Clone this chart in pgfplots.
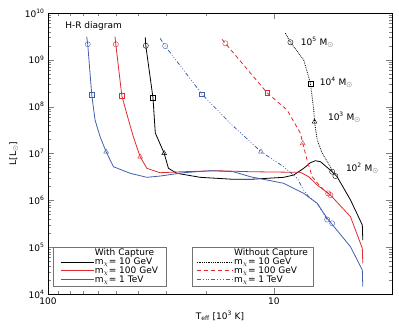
\documentclass[border=0pt]{standalone}
\usepackage{fontspec}
\setmainfont{DejaVu Sans}
\usepackage{pgfplots}
\pgfplotsset{compat=1.18}
\definecolor{cblue}{RGB}{65,95,175}
\definecolor{cred}{RGB}{222,42,48}
\newcommand\ls{\rule[-2.2pt]{0pt}{9pt}}
\begin{document}
\begin{tikzpicture}
\begin{axis}[
  scale only axis, width=344pt, height=281pt,
  xmode=log, ymode=log, x dir=reverse,
  xmin=3.0, xmax=100, ymin=1e4, ymax=1e10,
  major tick length=6pt, minor tick length=3pt,
  legend image code/.code={\draw[#1] (0pt,0pt) -- (33pt,0pt);},
  legend style={draw=black!55, fill=white, anchor=south west,
     font=\fontsize{9}{9}\selectfont, inner xsep=7pt, inner ysep=2pt,
     nodes={inner xsep=1pt, inner ysep=0.2pt},
     /tikz/every even column/.append style={column sep=5pt},
     cells={anchor=west}, at={(0.0145,0.0285)}},
  xtick={10,100}, xticklabels={10,100},
  ytick={1e4,1e5,1e6,1e7,1e8,1e9,1e10},
  yticklabels={10\textsuperscript{4},10\textsuperscript{5},10\textsuperscript{6},10\textsuperscript{7},10\textsuperscript{8},10\textsuperscript{9},10\textsuperscript{10}},
  ticklabel style={font=\fontsize{9}{9}\selectfont},
  xlabel={T\textsubscript{eff} [10\textsuperscript{3} K]},
  ylabel={L[L\textsubscript{$\odot$}]},
  label style={font=\fontsize{9}{9}\selectfont},
  axis line style={line width=0.8pt},
]
\addlegendimage{empty legend}\addlegendentry{\ls With Capture}
\addplot[black, line width=0.8pt] coordinates {(37.1,3.03e9)(36.9,2.00e9)(34.3,1.55e8)(33.5,2.74e7)(30.6,1.01e7)(29.3,4.83e6)(26.9,3.78e6)(21.2,3.10e6)(15.1,2.81e6)(12.7,2.81e6)(9.05,3.10e6)(8.17,3.47e6)(7.38,4.83e6)(6.89,6.35e6)(6.55,7.02e6)(6.22,6.68e6)(5.52,4.08e6)(5.25,3.19e6)(4.58,1.02e6)(4.06,2.97e5)(4.04,1.42e5)};
\addlegendentry{\ls m$_\chi$= 10 GeV}
\addplot[cred, line width=0.8pt] coordinates {(50.5,3.12e9)(50.1,2.15e9)(47.1,1.69e8)(44.0,5.19e7)(41.9,2.28e7)(39.1,8.54e6)(36.5,4.83e6)(31.9,3.89e6)(25.2,4.08e6)(17.9,4.29e6)(12.7,4.08e6)(7.63,3.96e6)(7.01,3.19e6)(6.43,2.12e6)(5.62,1.30e6)(4.58,4.47e5)(4.06,9.45e4)(4.04,4.52e4)};
\addlegendentry{\ls m$_\chi$= 100 GeV}
\addplot[cblue, line width=0.8pt] coordinates {(67.4,3.12e9)(66.7,2.15e9)(64.0,1.77e8)(61.9,5.19e7)(58.8,2.28e7)(55.3,1.09e7)(51.3,5.22e6)(43.3,3.78e6)(36.5,3.10e6)(31.9,3.30e6)(25.1,3.89e6)(19.1,4.29e6)(15.1,4.08e6)(12.7,3.19e6)(9.05,2.31e6)(7.38,1.41e6)(6.43,8.63e5)(5.81,4.13e5)(4.58,1.02e5)(4.06,3.25e4)(4.04,1.43e4)};
\addlegendentry{\ls m$_\chi$= 1 TeV}
\addplot[only marks, black, mark=o, mark size=2.6pt, forget plot] coordinates {(36.9,2.00e9)(5.34,3.30e6)};
\addplot[only marks, black, mark=square, mark size=2.4pt, forget plot] coordinates {(34.3,1.55e8)};
\addplot[only marks, black, mark=triangle, mark size=2.8pt, forget plot] coordinates {(30.6,1.01e7)};
\addplot[only marks, cred, mark=o, mark size=2.6pt, forget plot] coordinates {(50.1,2.15e9)(5.62,1.30e6)};
\addplot[only marks, cred, mark=square, mark size=2.4pt, forget plot] coordinates {(47.1,1.69e8)};
\addplot[only marks, cred, mark=triangle, mark size=2.8pt, forget plot] coordinates {(39.1,8.54e6)};
\addplot[only marks, cblue, mark=o, mark size=2.6pt, forget plot] coordinates {(66.7,2.15e9)(5.52,3.23e5)};
\addplot[only marks, cblue, mark=square, mark size=2.4pt, forget plot] coordinates {(64.0,1.77e8)};
\addplot[only marks, cblue, mark=triangle, mark size=2.8pt, forget plot] coordinates {(55.3,1.09e7)};
\node[anchor=west, font=\fontsize{9}{9}\selectfont] at (rel axis cs:0.04,0.954) {H-R diagram};
\node[anchor=west, font=\fontsize{9}{9}\selectfont] at (axis cs:7.87,2.40e9) {10\textsuperscript{5} M\textsubscript{$\odot$}};
\node[anchor=west, font=\fontsize{9}{9}\selectfont] at (axis cs:6.48,3.36e8) {10\textsuperscript{4} M\textsubscript{$\odot$}};
\node[anchor=west, font=\fontsize{9}{9}\selectfont] at (axis cs:5.97,6.01e7) {10\textsuperscript{3} M\textsubscript{$\odot$}};
\node[anchor=west, font=\fontsize{9}{9}\selectfont] at (axis cs:4.97,4.90e6) {10\textsuperscript{2} M\textsubscript{$\odot$}};
\coordinate (ll) at (rel axis cs:0,0);
\end{axis}
\begin{axis}[
  scale only axis, width=344pt, height=281pt,
  xmode=log, ymode=log, x dir=reverse,
  xmin=3.0, xmax=100, ymin=1e4, ymax=1e10,
  hide axis,
  legend image code/.code={\draw[#1] (0pt,0pt) -- (36pt,0pt);},
  legend style={draw=black!55, fill=white, anchor=south west,
     font=\fontsize{9}{9}\selectfont, inner xsep=4pt, inner ysep=2pt,
     nodes={inner xsep=1pt, inner ysep=0.2pt},
     /tikz/every even column/.append style={column sep=5pt},
     cells={anchor=west}, at={(0.419,0.0285)}},
]
\addlegendimage{empty legend}\addlegendentry{\ls Without Capture}
\addplot[black, line width=0.8pt, densely dotted] coordinates {(8.89,3.69e9)(8.45,2.37e9)(7.38,9.91e8)(6.89,3.15e8)(6.66,8.49e7)(6.61,4.77e7)(6.43,1.94e7)(6.11,1.01e7)(5.62,5.22e6)(5.52,4.08e6)};
\addlegendentry{\ls m$_\chi$= 10 GeV}
\addplot[cred, line width=0.8pt, dash pattern=on 4pt off 3pt] coordinates {(16.97,2.74e9)(16.4,2.25e9)(10.7,1.96e8)(8.74,8.49e7)(7.63,2.70e7)(7.45,1.65e7)(7.13,7.26e6)(6.77,3.19e6)(6.22,1.95e6)(5.75,1.41e6)};
\addlegendentry{\ls m$_\chi$= 100 GeV}
\addplot[cblue, line width=0.8pt, dash pattern=on 4pt off 2pt on 0.8pt off 2pt on 0.8pt off 2pt on 0.8pt off 2pt] coordinates {(31.9,2.88e9)(30.3,1.97e9)(20.8,1.84e8)(15.6,4.41e7)(11.4,1.09e7)(9.05,5.22e6)(7.89,2.95e6)(7.38,1.66e6)(7.01,1.19e6)(6.43,8.63e5)(5.81,3.89e5)};
\addlegendentry{\ls m$_\chi$= 1 TeV}
\addplot[only marks, black, mark=o, mark size=2.6pt, forget plot] coordinates {(8.45,2.37e9)(5.52,4.08e6)};
\addplot[only marks, black, mark=square, mark size=2.4pt, forget plot] coordinates {(6.89,3.15e8)};
\addplot[only marks, black, mark=triangle, mark size=2.8pt, forget plot] coordinates {(6.61,4.77e7)};
\addplot[only marks, cred, mark=o, mark size=2.6pt, forget plot] coordinates {(16.4,2.25e9)(5.75,1.41e6)};
\addplot[only marks, cred, mark=square, mark size=2.4pt, forget plot] coordinates {(10.7,1.96e8)};
\addplot[only marks, cred, mark=triangle, mark size=2.8pt, forget plot] coordinates {(7.45,1.65e7)};
\addplot[only marks, cblue, mark=o, mark size=2.6pt, forget plot] coordinates {(30.3,1.97e9)(5.81,3.89e5)};
\addplot[only marks, cblue, mark=square, mark size=2.4pt, forget plot] coordinates {(20.8,1.84e8)};
\addplot[only marks, cblue, mark=triangle, mark size=2.8pt, forget plot] coordinates {(11.4,1.09e7)};
\end{axis}
\pgfresetboundingbox
\useasboundingbox ([xshift=-48pt,yshift=-38pt]ll) rectangle ([xshift=351pt,yshift=294pt]ll);
\end{tikzpicture}
\end{document}
